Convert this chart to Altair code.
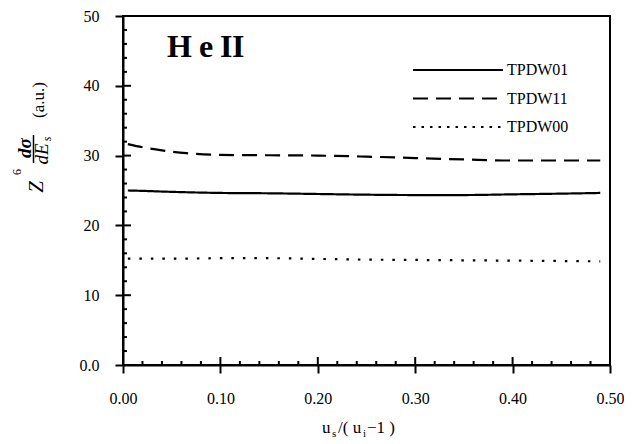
import altair as alt
import pandas as pd

# ---- data ----
x_vals = [0.005, 0.02, 0.04, 0.065, 0.10, 0.15, 0.20, 0.25, 0.30, 0.35, 0.40, 0.45, 0.49]
tpdw01 = [25.0, 24.95, 24.85, 24.75, 24.65, 24.6, 24.5, 24.4, 24.35, 24.35, 24.45, 24.55, 24.65]
tpdw11 = [31.65, 31.2, 30.75, 30.35, 30.1, 30.05, 30.0, 29.85, 29.65, 29.45, 29.3, 29.3, 29.3]
tpdw00 = [15.25, 15.25, 15.25, 15.25, 15.3, 15.3, 15.2, 15.1, 15.05, 15.0, 14.95, 14.9, 14.85]
series_names = ["TPDW01", "TPDW11", "TPDW00"]

x_ticks = [0.0, 0.1, 0.2, 0.3, 0.4, 0.5]
y_ticks = [0, 10, 20, 30, 40, 50]
x_major_inner = [0.1, 0.2, 0.3, 0.4]
y_major_inner = [10, 20, 30, 40]
x_minor = [0.02, 0.04, 0.06, 0.08, 0.12, 0.14, 0.16, 0.18, 0.22, 0.24, 0.26, 0.28,
           0.32, 0.34, 0.36, 0.38, 0.42, 0.44, 0.46, 0.48]
y_minor = [2, 4, 6, 8, 12, 14, 16, 18, 22, 24, 26, 28, 32, 34, 36, 38, 42, 44, 46, 48]

FONT = "Liberation Serif"
W, H = 487, 349
TOP = 8          # plot top offset inside the svg
DY = -2          # shift for annotations placed relative to the plot top

rows = []
for name, vals in zip(series_names, [tpdw01, tpdw11, tpdw00]):
    for xv, yv in zip(x_vals, vals):
        rows.append({"x": xv, "y": yv, "series": name})
df = pd.DataFrame(rows)

xscale = alt.Scale(domain=[0, 0.5], nice=False, zero=False)
yscale = alt.Scale(domain=[0, 50], nice=False)

xaxis = alt.Axis(values=x_ticks, format=".2f", tickSize=8, tickWidth=2, tickColor="black",
                 domainColor="black", domainWidth=2, labelFont=FONT, labelFontSize=16,
                 labelColor="black", labelPadding=17, grid=False, labelFlush=False, title=None)
yaxis = alt.Axis(values=y_ticks, labelExpr="datum.value == 0 ? '0.0' : format(datum.value, 'd')",
                 tickSize=8, tickWidth=2, tickColor="black", domainColor="black", domainWidth=2,
                 labelFont=FONT, labelFontSize=16, labelColor="black", labelPadding=16,
                 grid=False, labelFlush=False, title=None)

dash_range = [[1, 0], [15, 8], [2.5, 9]]

lines = alt.Chart(df).mark_line(color="black", strokeWidth=2.2, interpolate="monotone", strokeCap="butt").encode(
    x=alt.X("x:Q", scale=xscale, axis=xaxis, title=None),
    y=alt.Y("y:Q", scale=yscale, axis=yaxis, title=None),
    strokeDash=alt.StrokeDash("series:N", scale=alt.Scale(domain=series_names, range=dash_range), legend=None),
    detail="series:N",
)

# inner tick marks
def xticks(vals, length, width):
    return alt.Chart(pd.DataFrame({"v": vals})).mark_rule(color="black", strokeWidth=width).encode(
        x=alt.X("v:Q", scale=xscale, axis=xaxis, title=None), y=alt.value(H), y2=alt.value(H - length))

def yticks(vals, length, width):
    return alt.Chart(pd.DataFrame({"v": vals})).mark_rule(color="black", strokeWidth=width).encode(
        y=alt.Y("v:Q", scale=yscale, axis=yaxis, title=None), x=alt.value(0), x2=alt.value(length))

tick_layers = [xticks(x_minor, 4, 2), xticks(x_major_inner, 8, 2),
               yticks(y_minor, 4, 2), yticks(y_major_inner, 8, 2)]

# legend (manual)
leg_dash = [[1, 0], [15, 8], [2.5, 6]]
leg_layers = []
for i, name in enumerate(series_names):
    yy = 56 + DY + 28.5 * i
    leg_layers.append(alt.Chart(pd.DataFrame({"n": [name]})).mark_rule(
        color="black", strokeWidth=2.2, strokeDash=leg_dash[i]).encode(
        x=alt.value(290), x2=alt.value(380), y=alt.value(yy)))
    leg_layers.append(alt.Chart(pd.DataFrame({"n": [name]})).mark_text(
        font=FONT, fontSize=16, align="left", baseline="middle", color="black").encode(
        x=alt.value(384), y=alt.value(yy), text="n:N"))

def txt(s, x, y, size=16, align="left", baseline="alphabetic", angle=0, style="normal", weight="normal"):
    return alt.Chart(pd.DataFrame({"t": [s]})).mark_text(
        font=FONT, fontSize=size, align=align, baseline=baseline, angle=angle,
        fontStyle=style, fontWeight=weight, color="black").encode(
        x=alt.value(x), y=alt.value(y + DY), text="t:N")

# "HeII" label (letter-spaced as in the reference)
title_layers = [txt("H", 44, 43, size=32, weight="bold"),
                txt("e", 76, 43, size=32, weight="bold"),
                txt("I", 97, 43, size=32, weight="bold"),
                txt("I", 109, 43, size=32, weight="bold")]

# x-axis title  u_s/( u_i - 1 )
xt = [txt("u", 199, 419, size=17),
      txt("s", 209, 423, size=11),
      txt("/( u", 215, 419, size=17),
      txt("i", 240, 423, size=11),
      txt("\u22121 )", 244, 419, size=17)]

# y-axis title  Z^6 dσ/dE_s (a.u.)
yt = [txt("(a.u.)", -79, 86, size=17, align="center", angle=270),
      txt("d\u03c3", -92, 134, size=19, align="center", angle=270, style="italic", weight="bold"),
      txt("dE", -75, 140, size=19, align="center", angle=270, style="italic"),
      txt("s", -72, 125, size=12, align="center", angle=270, style="italic"),
      txt("Z", -80, 173, size=21, align="center", angle=270, style="italic"),
      txt("6", -102, 158, size=12, align="center", angle=270),
      alt.Chart(pd.DataFrame({"t": ["frac"]})).mark_rule(color="black", strokeWidth=1.5).encode(
          x=alt.value(-89.5), y=alt.value(121 + DY), y2=alt.value(149 + DY))]

chart = alt.layer(lines, *tick_layers, *leg_layers, *title_layers, *xt, *yt).properties(
    width=W, height=H,
    autosize=alt.AutoSizeParams(type="none"),
    padding={"left": 115, "top": TOP, "right": 14, "bottom": 79},
    background="white",
).configure_view(stroke="black", strokeWidth=2)

chart.save("out.html", embed_options={"renderer": "svg", "actions": False})
